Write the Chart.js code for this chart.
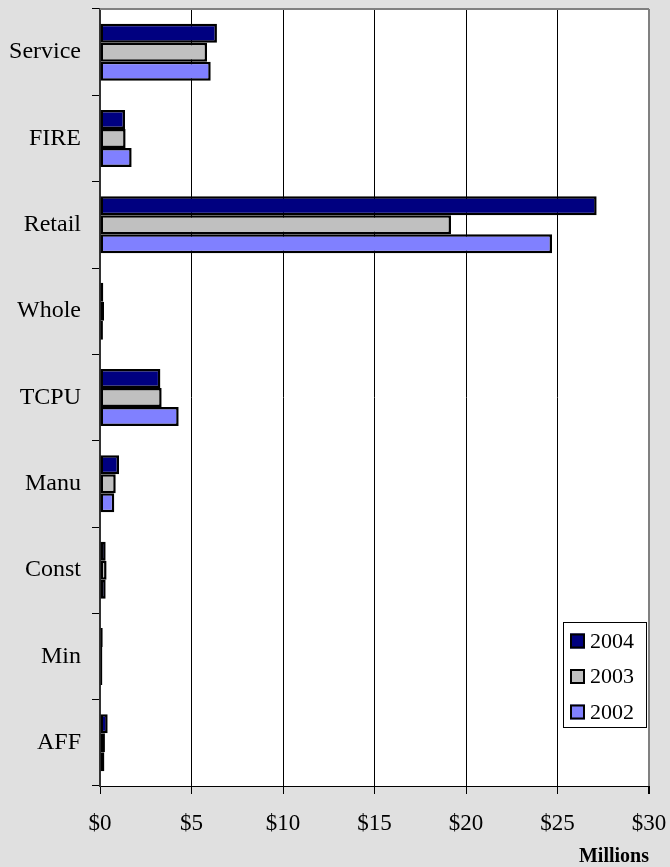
<!DOCTYPE html>
<html><head><meta charset="utf-8">
<script src="https://cdn.jsdelivr.net/npm/chart.js@4/dist/chart.umd.min.js"></script>
<style>html,body{margin:0;padding:0;background:#e0e0e0;} #wrap{width:670px;height:867px;position:relative}</style>
</head><body><div id="wrap"><canvas id="c" width="670" height="867"></canvas></div>
<script>
const categories = ['Service','FIRE','Retail','Whole','TCPU','Manu','Const','Min','AFF'];
const seriesLabels = ['2004','2003','2002'];
const values2004 = [6.39,1.37,27.14,0.18,3.30,1.04,0.31,0.15,0.42];
const values2003 = [5.85,1.40,19.18,0.22,3.37,0.86,0.36,0.13,0.27];
const values2002 = [6.05,1.73,24.70,0.16,4.30,0.78,0.31,0.13,0.24];
const xTicks = [0,5,10,15,20,25,30];
const seriesColors = ['#000080','#c0c0c0','#8080ff'];
const axisTitle = 'Millions';
const FONT = "'Liberation Serif','Times New Roman',serif";

const bgPlugin = {
  id:'bg',
  beforeDraw(chart){
    const {ctx, chartArea:a} = chart;
    ctx.save();
    ctx.fillStyle='#e0e0e0';
    ctx.fillRect(0,0,chart.width,chart.height);
    ctx.fillStyle='#ffffff';
    ctx.fillRect(a.left,a.top,a.right-a.left,a.bottom-a.top);
    ctx.restore();
  },
  beforeDatasetsDraw(chart){
    const {ctx, chartArea:a} = chart;
    ctx.save();
    ctx.strokeStyle='#808080';
    ctx.lineWidth=2;
    ctx.beginPath();
    ctx.moveTo(a.left,a.top);
    ctx.lineTo(a.right,a.top);
    ctx.stroke();
    ctx.restore();
  }
};

const legendPlugin = {
  id:'boxLegend',
  afterDraw(chart){
    const {ctx, chartArea:a} = chart;
    const w=84, h=106;
    const x = a.right - 2 - w, y = a.bottom - 58 - h;
    ctx.save();
    ctx.fillStyle='#ffffff';
    ctx.fillRect(x,y,w,h);
    ctx.strokeStyle='#000';
    ctx.lineWidth=1;
    ctx.strokeRect(x+0.5,y+0.5,w-1,h-1);
    ctx.font = "22px " + FONT;
    ctx.textBaseline='middle';
    ctx.textAlign='left';
    chart.data.datasets.forEach((ds,i)=>{
      const cy = y + 19 + i*35.5;
      ctx.fillStyle = ds.backgroundColor;
      ctx.fillRect(x+7, cy-7.5, 15, 15);
      ctx.lineWidth=2;
      ctx.strokeStyle='#000';
      ctx.strokeRect(x+8, cy-6.5, 13, 13);
      ctx.fillStyle='#000';
      ctx.fillText(ds.label, x+27, cy+1);
    });
    ctx.restore();
  }
};

function zeroPad(scale){
  scale.paddingLeft = 0; scale.paddingRight = 0;
  scale.paddingTop = 0; scale.paddingBottom = 0;
}

new Chart(document.getElementById('c'), {
  type:'bar',
  data:{
    labels: categories,
    datasets:[
      {label:seriesLabels[0], data:values2004, backgroundColor:seriesColors[0]},
      {label:seriesLabels[1], data:values2003, backgroundColor:seriesColors[1]},
      {label:seriesLabels[2], data:values2002, backgroundColor:seriesColors[2]}
    ].map(d=>Object.assign(d,{borderColor:'#000',borderWidth:2.5,borderSkipped:false,categoryPercentage:0.66,barPercentage:1}))
  },
  options:{
    indexAxis:'y',
    responsive:false,
    animation:false,
    devicePixelRatio:1,
    layout:{padding:{top:9,right:21,left:0,bottom:0}},
    plugins:{legend:{display:false},tooltip:{enabled:false}},
    scales:{
      x:{
        min:0,max:30,
        afterBuildTicks(scale){ scale.ticks = xTicks.map(v=>({value:v})); },
        afterFit(scale){ scale.height = 81; zeroPad(scale); },
        ticks:{color:'#000',font:{family:FONT,size:23},padding:16,maxRotation:0,callback:v=>'$'+v},
        grid:{
          drawOnChartArea:true,drawTicks:true,tickLength:8,
          color:ctx=> (ctx.tick && ctx.tick.value===30)?'#808080':'#000',
          lineWidth:ctx=> (ctx.tick && ctx.tick.value===30)?2:1,
          tickColor:'#000'
        },
        border:{display:true,color:'#000',width:1},
        title:{display:true,text:axisTitle,align:'end',color:'#000',
          font:{family:FONT,size:20,weight:'bold',lineHeight:1},padding:{top:0,bottom:0}}
      },
      y:{
        afterFit(scale){ scale.width = 100; zeroPad(scale); },
        ticks:{color:'#000',font:{family:FONT,size:24},padding:11},
        grid:{offset:true,drawOnChartArea:false,drawTicks:true,tickLength:8,color:'#000'},
        border:{display:true,color:'#333',width:2}
      }
    }
  },
  plugins:[bgPlugin, legendPlugin]
});
</script></body></html>
